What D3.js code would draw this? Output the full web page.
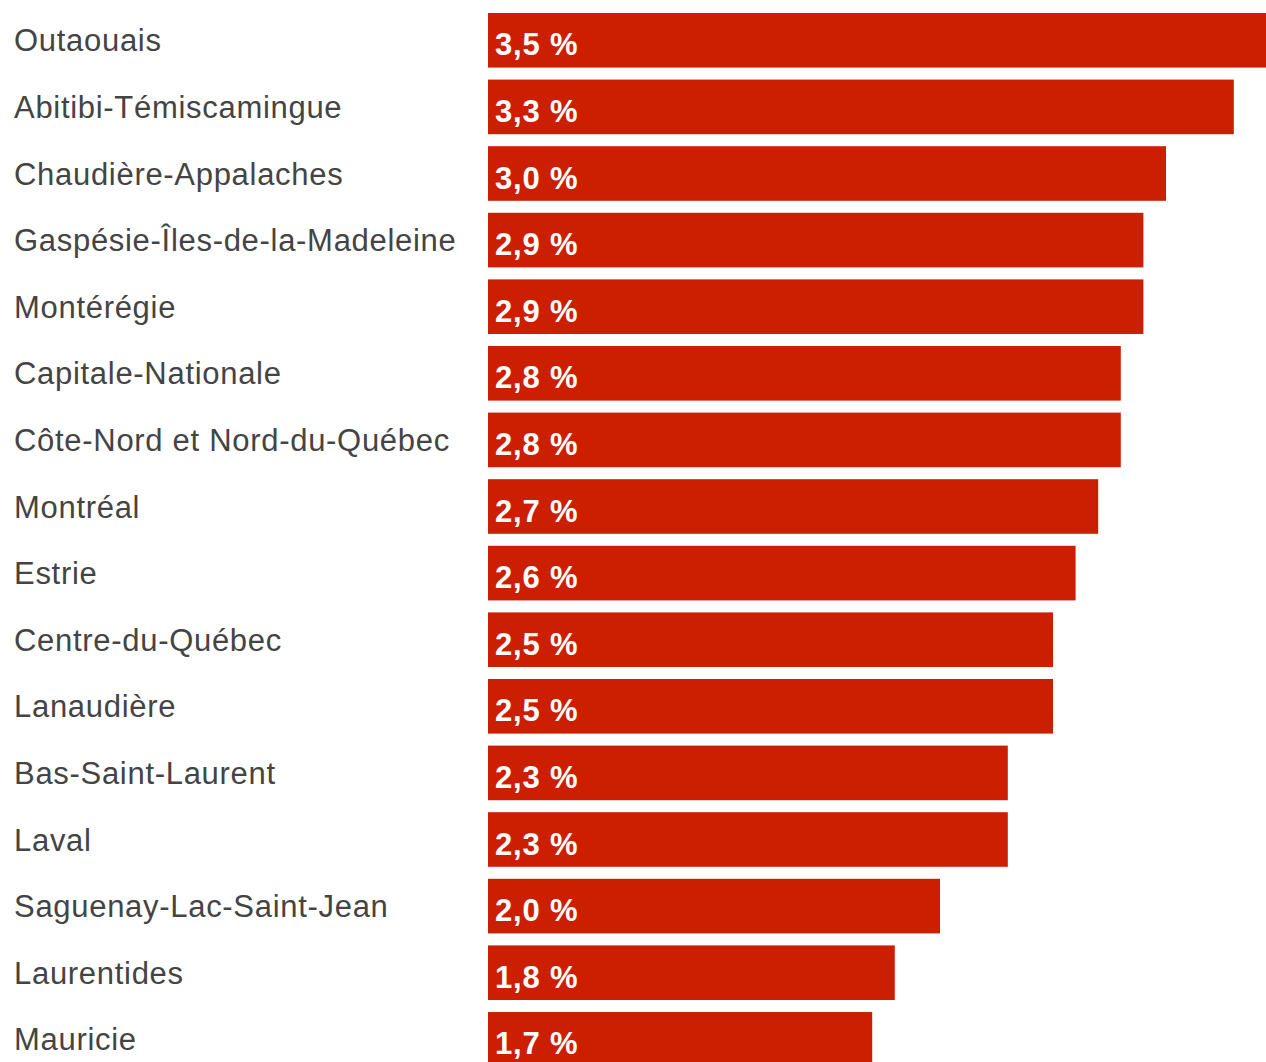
<!DOCTYPE html>
<meta charset="utf-8">
<head>
    <script src="https://d3js.org/d3.v7.min.js"></script>
    <style>
        body { margin: 0; background: #fff; overflow: hidden; }
    </style>
</head>
<body>
<div id="my_dataviz"></div>
</body>

<script>
    // regions and rate (%) as shown in the chart
    var regions = ["Outaouais", "Abitibi-Témiscamingue", "Chaudière-Appalaches",
        "Gaspésie-Îles-de-la-Madeleine", "Montérégie", "Capitale-Nationale",
        "Côte-Nord et Nord-du-Québec", "Montréal", "Estrie", "Centre-du-Québec",
        "Lanaudière", "Bas-Saint-Laurent", "Laval", "Saguenay-Lac-Saint-Jean",
        "Laurentides", "Mauricie"];
    var rates = [3.5, 3.3, 3.0, 2.9, 2.9, 2.8, 2.8, 2.7, 2.6, 2.5, 2.5, 2.3, 2.3, 2.0, 1.8, 1.7];

    var data = regions.map(function(r, i) { return {region: r, value: rates[i]}; });

    var width = 1266, height = 1062;

    var svg = d3.select("#my_dataviz")
        .append("svg")
        .attr("width", width)
        .attr("height", height);

    // bars start at x=488, 226px per point
    var x = d3.scaleLinear()
        .domain([0, 1])
        .range([488, 714]);

    var y = d3.scaleBand()
        .domain(regions)
        .range([7, 7 + 16 * 66.6])
        .paddingInner(0.18)
        .paddingOuter(0.09);

    var fmt = function(v) { return d3.format(".1f")(v).replace(".", ",") + " %"; };

    // bars
    svg.append("g")
        .selectAll("rect")
        .data(data)
        .join("rect")
        .attr("x", x(0))
        .attr("y", function(d) { return y(d.region); })
        .attr("width", function(d) { return x(d.value) - x(0); })
        .attr("height", y.bandwidth())
        .attr("fill", "#cc1f02");

    // region labels
    svg.append("g")
        .selectAll("text")
        .data(data)
        .join("text")
        .attr("x", 14)
        .attr("y", function(d) { return y(d.region) + y.bandwidth() / 2 + 11; })
        .text(function(d) { return d.region; })
        .style("font-family", "'Liberation Sans', Arial, sans-serif")
        .style("font-size", "31px")
        .style("letter-spacing", "0.7px")
        .style("fill", "#444");

    // value labels inside bars
    svg.append("g")
        .selectAll("text")
        .data(data)
        .join("text")
        .attr("x", x(0) + 7)
        .attr("y", function(d) { return y(d.region) + y.bandwidth() / 2 + 15; })
        .text(function(d) { return fmt(d.value); })
        .style("font-family", "'Liberation Sans', Arial, sans-serif")
        .style("font-size", "31px")
        .style("font-weight", "bold")
        .style("letter-spacing", "0.8px")
        .style("fill", "#fff");
</script>
